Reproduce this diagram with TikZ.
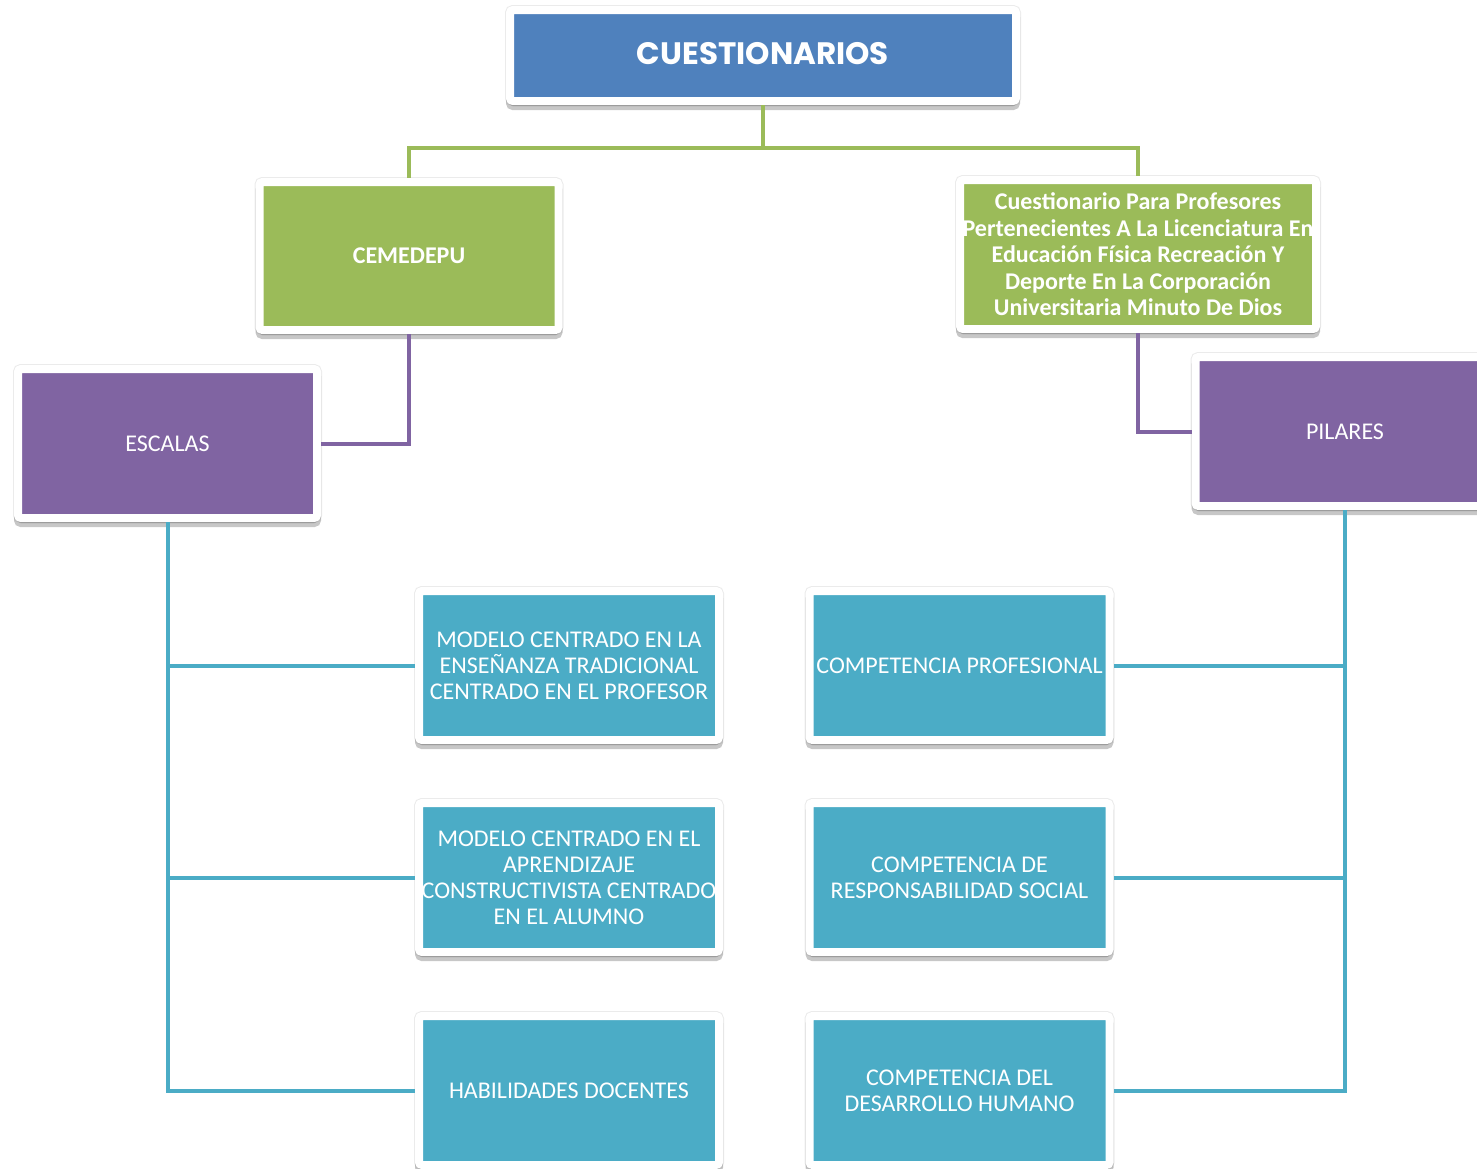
\documentclass[tikz,border=0pt]{standalone}
\usepackage{fontspec}
\setmainfont{Carlito}
\newfontfamily\titlefont{Poppins}
\usetikzlibrary{shadows}
\definecolor{azul}{HTML}{4F81BD}
\definecolor{verde}{HTML}{9BBB59}
\definecolor{morado}{HTML}{8064A2}
\definecolor{turquesa}{HTML}{4BACC6}
\tikzset{
  caja/.style={rectangle, draw=white, line width=8pt, rounded corners=3pt,
    inner sep=0pt, outer sep=4pt, minimum width=300pt, minimum height=149pt,
    text=white, align=center, font=\fontsize{24}{26}\selectfont,
    general shadow={draw=black, fill=black, line width=10pt, opacity=.08},
    general shadow={draw=black, fill=black, line width=8pt, opacity=.22, shadow yshift=-5pt}},
  linea/.style={line width=4pt, line join=miter}
}

\begin{document}
\begin{tikzpicture}[x=1pt,y=-1pt]
\path[use as bounding box, clip] (0,0) rectangle (1477,1168);
\fill[white] (0,0) rectangle (1477,1168);
% nivel 1
\node[caja, fill=azul, minimum width=506pt, minimum height=91pt,
  font=\titlefont\bfseries\fontsize{31}{33}\selectfont] (cuestionarios) at (763,55.5) {\raisebox{5pt}{CUESTIONARIOS}};
% nivel 2
\node[caja, fill=verde, minimum width=299pt, minimum height=148pt, font=\bfseries\fontsize{24}{26}\selectfont] (cemedepu) at (409,256) {CEMEDEPU};
\node[caja, fill=verde, minimum width=356pt, font=\bfseries\fontsize{24}{26.5}\selectfont] (profesores) at (1138,254.5)
  {Cuestionario Para Profesores\\Pertenecientes A La Licenciatura En\\Educación Física Recreación Y\\Deporte En La Corporación\\Universitaria Minuto De Dios};
% nivel 3
\node[caja, fill=morado, minimum width=299pt] (escalas) at (167.5,443.5) {ESCALAS};
\node[caja, fill=morado, minimum width=299pt] (pilares) at (1345,431.5) {PILARES};
% nivel 4
\node[caja, fill=turquesa] (modelo1) at (569,665.5) {MODELO CENTRADO EN LA\\ENSEÑANZA TRADICIONAL\\CENTRADO EN EL PROFESOR};
\node[caja, fill=turquesa] (modelo2) at (569,877.5) {MODELO CENTRADO EN EL\\APRENDIZAJE\\CONSTRUCTIVISTA CENTRADO\\EN EL ALUMNO};
\node[caja, fill=turquesa] (habilidades) at (569,1090.5) {HABILIDADES DOCENTES};
\node[caja, fill=turquesa] (comp1) at (959.5,665.5) {COMPETENCIA PROFESIONAL};
\node[caja, fill=turquesa] (comp2) at (959.5,877.5) {COMPETENCIA DE\\RESPONSABILIDAD SOCIAL};
\node[caja, fill=turquesa] (comp3) at (959.5,1090.5) {COMPETENCIA DEL\\DESARROLLO HUMANO};
% conectores
\draw[linea, verde] (cuestionarios.south) -- ++(0,43) coordinate (rama);
\draw[linea, verde] (rama) -| (cemedepu.north);
\draw[linea, verde] (rama) -| (profesores.north);
\draw[linea, morado] (cemedepu.south) |- (escalas.east);
\draw[linea, morado] (profesores.south) |- (pilares.west);
\foreach \hijo in {modelo1,modelo2,habilidades}
  \draw[linea, turquesa] (escalas.south) |- (\hijo.west);
\foreach \hijo in {comp1,comp2,comp3}
  \draw[linea, turquesa] (pilares.south) |- (\hijo.east);
\end{tikzpicture}
\end{document}
